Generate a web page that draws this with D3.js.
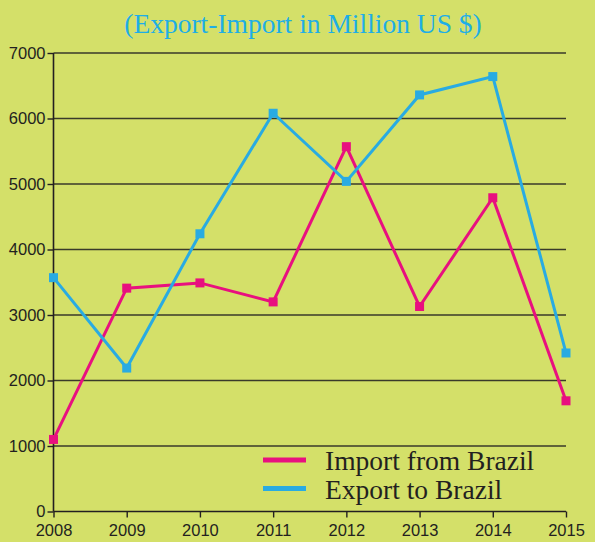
<!DOCTYPE html>
<html>
<head>
<meta charset="utf-8">
<script src="https://cdn.jsdelivr.net/npm/d3@7"></script>
<style>
  body { margin: 0; background: #d4e069; }
  svg { display: block; }
  .tick text { font-family: "Liberation Sans", Arial, sans-serif; font-size: 16.5px; fill: #231f20; }
</style>
</head>
<body>
<svg id="chart"></svg>
<script>
let svgWidth = 595;
let svgHeight = 542;

// data
let years = [2008, 2009, 2010, 2011, 2012, 2013, 2014, 2015];
let importFromBrazil = [1100, 3410, 3490, 3200, 5570, 3130, 4790, 1690];
let exportToBrazil = [3570, 2190, 4240, 6080, 5040, 6360, 6640, 2420];
let yTicks = [0, 1000, 2000, 3000, 4000, 5000, 6000, 7000];

let seriesNames = ['Import from Brazil', 'Export to Brazil'];
let seriesColors = ['#e8107f', '#29abe2'];

let svg = d3.select('#chart')
            .attr('width', svgWidth)
            .attr('height', svgHeight);

svg.append('rect')
   .attr('width', svgWidth)
   .attr('height', svgHeight)
   .attr('fill', '#d4e069');

let x = d3.scaleLinear().domain([2008, 2015]).range([53.5, 566]);
let y = d3.scaleLinear().domain([0, 7000]).range([511.5, 53]);

// title
svg.append('text')
   .attr('x', 303)
   .attr('y', 33)
   .attr('text-anchor', 'middle')
   .style('font-family', '"Liberation Serif", "Times New Roman", serif')
   .style('font-size', '27.5px')
   .style('fill', '#1eaee6')
   .text('(Export-Import in Million US $)');

// horizontal grid
svg.append('g')
   .selectAll('line')
   .data(yTicks.filter(d => d > 0))
   .join('line')
   .attr('x1', x(2008))
   .attr('x2', x(2015))
   .attr('y1', d => y(d))
   .attr('y2', d => y(d))
   .attr('stroke', '#3a3a2a')
   .attr('stroke-width', 1.6);

// axes
let yAxis = svg.append('g')
   .attr('transform', `translate(${x(2008)},0)`)
   .call(d3.axisLeft(y).tickValues(yTicks).tickFormat(d3.format('d')).tickSize(6).tickPadding(2));

let xAxis = svg.append('g')
   .attr('transform', `translate(0,${y(0)})`)
   .call(d3.axisBottom(x).tickValues(years).tickFormat(d3.format('d')).tickSize(6).tickPadding(7));

[yAxis, xAxis].forEach(a => {
    a.select('.domain').attr('stroke', '#231f20').attr('stroke-width', 1.6);
    a.selectAll('.tick line').attr('stroke', '#231f20').attr('stroke-width', 1.4);
});
yAxis.selectAll('.domain').attr('d', `M0,${y(0)}V${y(7000)}`);
xAxis.selectAll('.domain').attr('d', `M${x(2008)},0H${x(2015)}`);

// lines and markers
let line = d3.line()
             .x((d, i) => x(years[i]))
             .y(d => y(d));

[importFromBrazil, exportToBrazil].forEach((values, s) => {
    svg.append('path')
       .datum(values)
       .attr('d', line)
       .attr('fill', 'none')
       .attr('stroke', seriesColors[s])
       .attr('stroke-width', 3)
       .attr('stroke-linejoin', 'miter');

    svg.append('g')
       .selectAll('rect')
       .data(values)
       .join('rect')
       .attr('x', (d, i) => x(years[i]) - 4.5)
       .attr('y', d => y(d) - 4.5)
       .attr('width', 9)
       .attr('height', 9)
       .attr('fill', seriesColors[s]);
});

// legend
let legend = svg.append('g')
                .selectAll('g')
                .data(seriesNames)
                .join('g')
                .attr('transform', (d, i) => `translate(263,${460 + i * 28.5})`);

legend.append('line')
      .attr('x1', 0)
      .attr('x2', 43)
      .attr('stroke', (d, i) => seriesColors[i])
      .attr('stroke-width', 5);

legend.append('text')
      .attr('x', 62)
      .attr('y', 10)
      .style('font-family', '"Liberation Serif", "Times New Roman", serif')
      .style('font-size', '27.5px')
      .style('fill', '#231f20')
      .text(d => d);
</script>
</body>
</html>
